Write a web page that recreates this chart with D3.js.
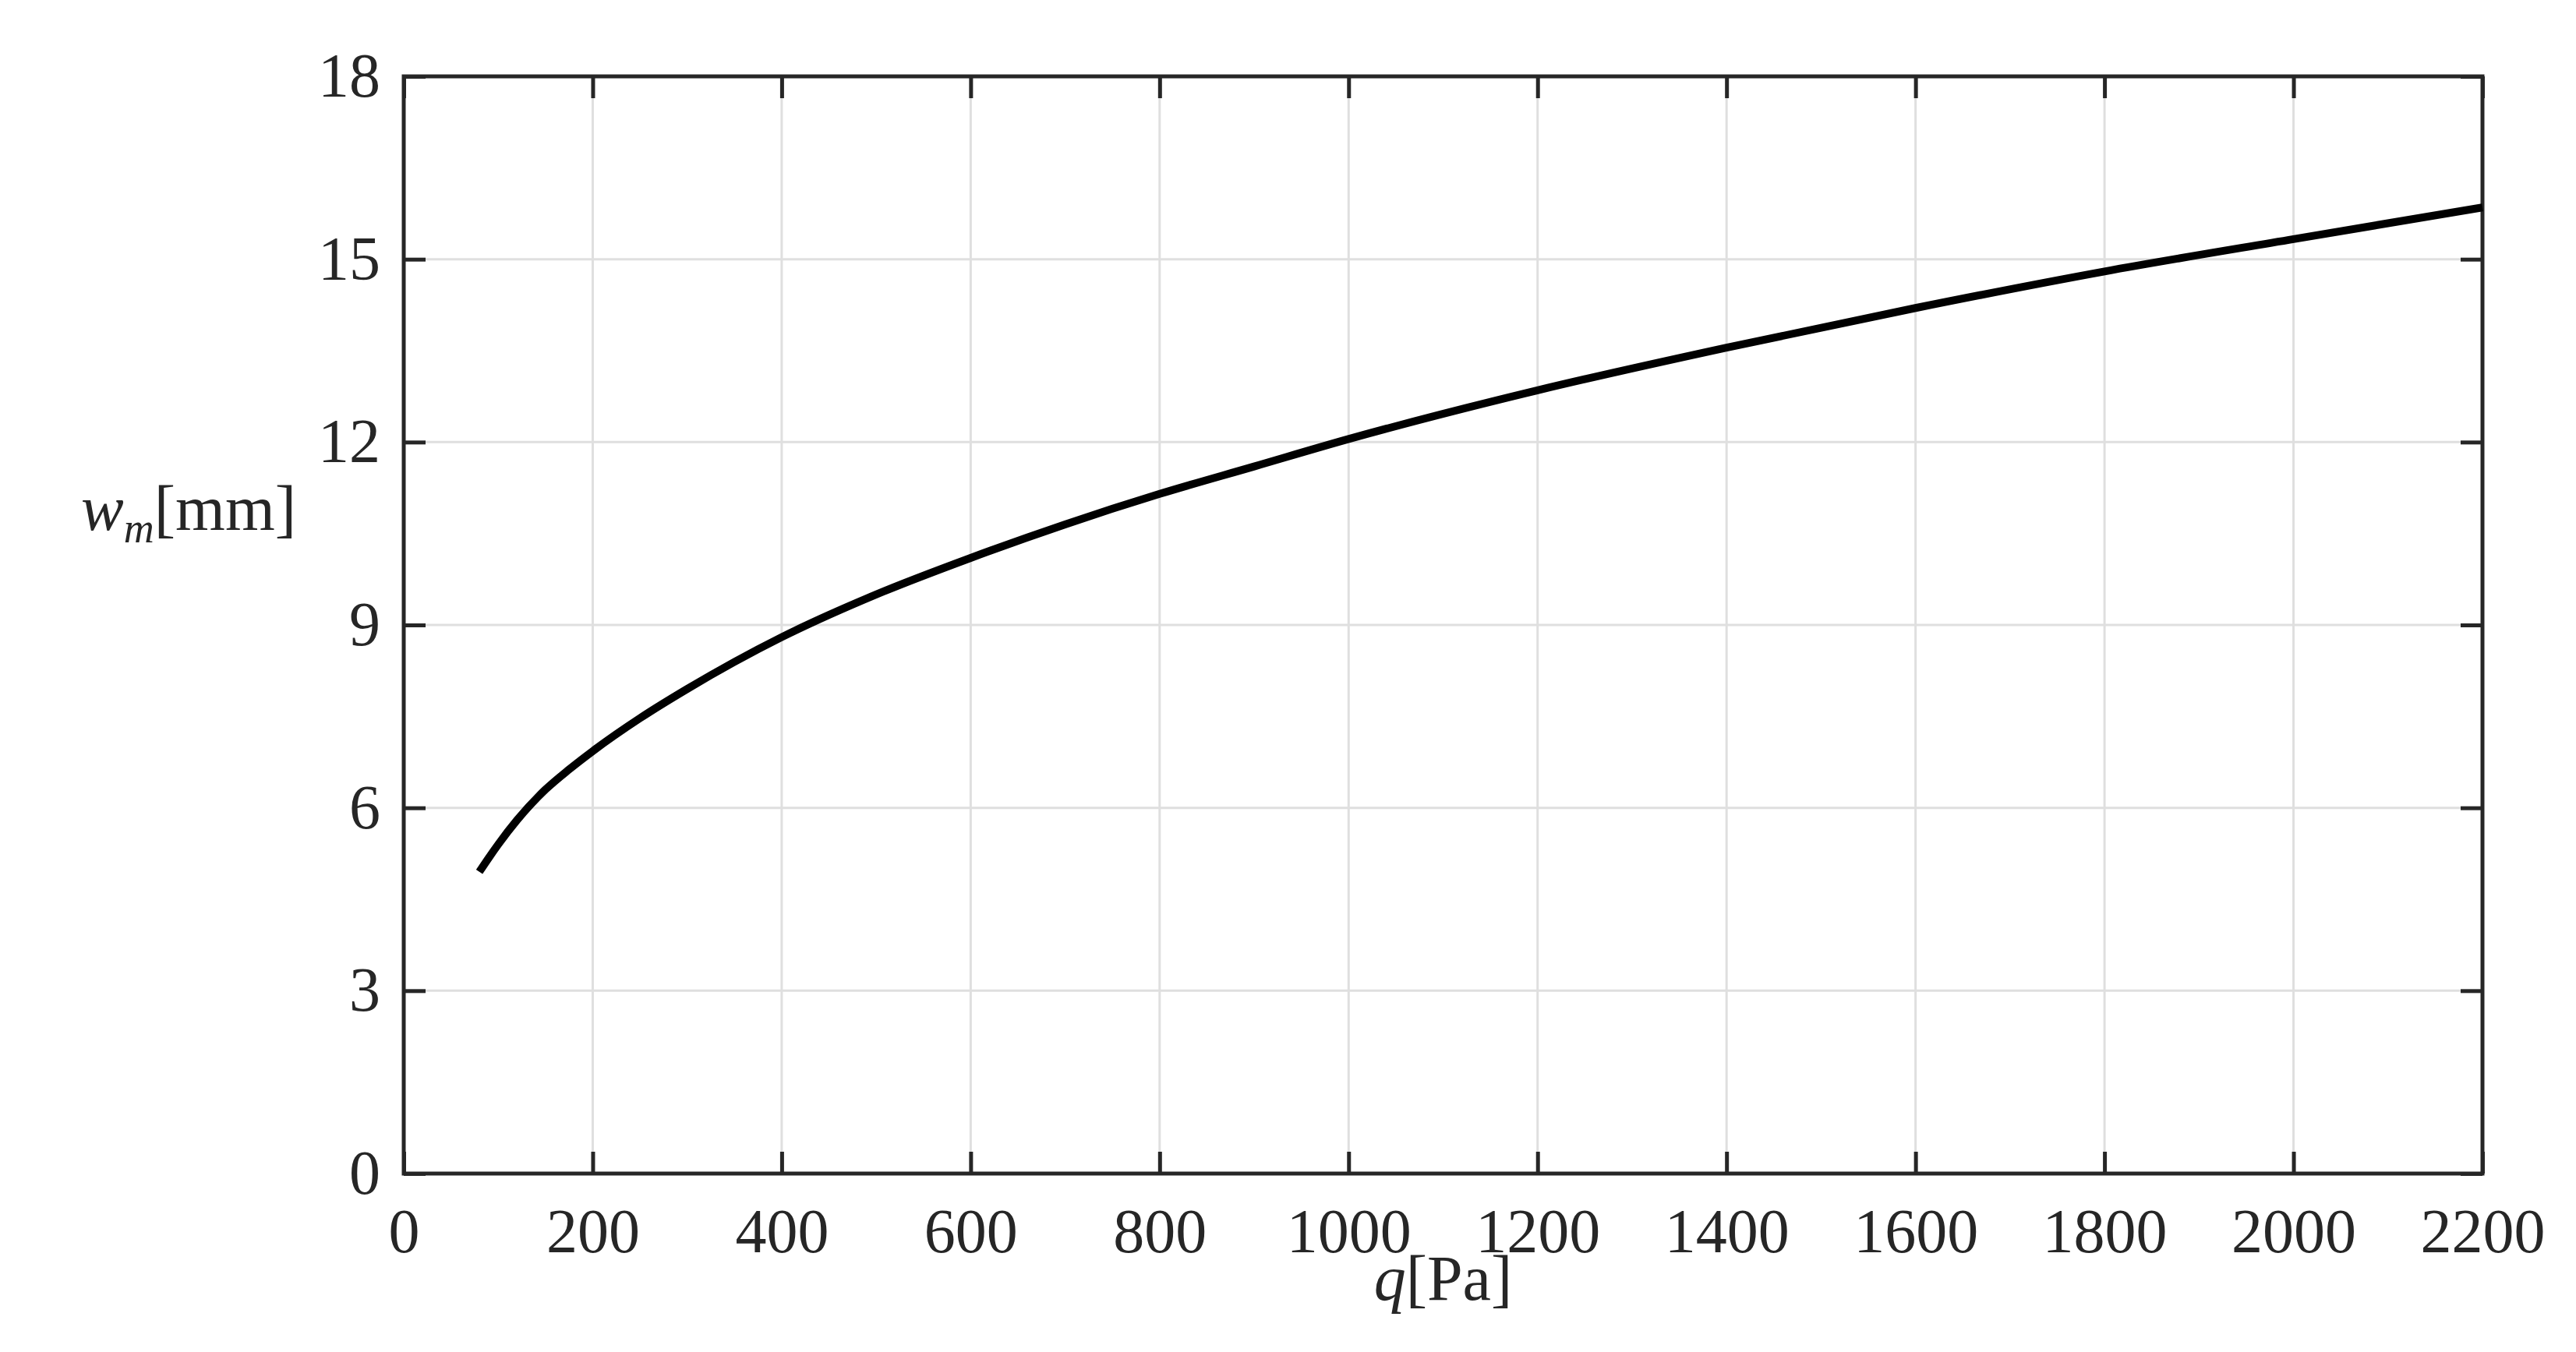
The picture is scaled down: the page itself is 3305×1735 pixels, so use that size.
<!DOCTYPE html>
<html><head><meta charset="utf-8">
<script src="https://cdn.jsdelivr.net/npm/d3@7"></script>
<style>body{margin:0;background:#fff}</style></head>
<body><svg id="c" width="3305" height="1735"></svg>
<script>
const qValues = [80,90,100,120,150,175,200,250,300,400,500,600,700,800,900,1000,1200,1400,1600,1800,2000,2200];
const wValues = [4.95,5.18,5.4,5.8,6.3,6.63,6.93,7.47,7.95,8.8,9.5,10.1,10.65,11.15,11.6,12.05,12.85,13.55,14.2,14.8,15.33,15.85];
const xTicks = [0,200,400,600,800,1000,1200,1400,1600,1800,2000,2200];
const yTicks = [0,3,6,9,12,15,18];

const L=518,R=3185,T=98,B=1506;
const svg=d3.select("#c");
const x=d3.scaleLinear().domain([0,2200]).range([L,R]);
const y=d3.scaleLinear().domain([0,18]).range([B,T]);
const font="'Liberation Serif','Times New Roman',serif";
const ink="#262626";

svg.append("g").selectAll("line").data(xTicks.slice(1,-1)).join("line")
 .attr("x1",d=>x(d)).attr("x2",d=>x(d)).attr("y1",T).attr("y2",B)
 .attr("stroke","#dfdfdf").attr("stroke-width",3);
svg.append("g").selectAll("line").data(yTicks.slice(1,-1)).join("line")
 .attr("y1",d=>y(d)).attr("y2",d=>y(d)).attr("x1",L).attr("x2",R)
 .attr("stroke","#dfdfdf").attr("stroke-width",3);

function style(g){g.select(".domain").remove();g.selectAll("line").attr("stroke",ink).attr("stroke-width",5);
 g.selectAll("text").attr("font-family",font).attr("font-size",80).attr("fill",ink);}
svg.append("g").attr("transform",`translate(0,${B})`).call(d3.axisBottom(x).tickValues(xTicks).tickSize(-28).tickPadding(44).tickFormat(d3.format("d"))).call(style);
svg.append("g").attr("transform",`translate(0,${T})`).call(d3.axisTop(x).tickValues(xTicks).tickSize(-28).tickFormat("")).call(style);
svg.append("g").attr("transform",`translate(${L},0)`).call(d3.axisLeft(y).tickValues(yTicks).tickSize(-28).tickPadding(30)).call(style);
svg.append("g").attr("transform",`translate(${R},0)`).call(d3.axisRight(y).tickValues(yTicks).tickSize(-28).tickFormat("")).call(style);
svg.append("rect").attr("x",L).attr("y",T).attr("width",R-L).attr("height",B-T)
 .attr("fill","none").attr("stroke",ink).attr("stroke-width",5);

svg.append("path").datum(qValues.map((q,i)=>[q,wValues[i]]))
 .attr("d",d3.line().x(d=>x(d[0])).y(d=>y(d[1])).curve(d3.curveMonotoneX))
 .attr("fill","none").attr("stroke","#000").attr("stroke-width",10);

const yl=svg.append("text").attr("x",380).attr("y",680).attr("text-anchor","end")
 .attr("font-family",font).attr("font-size",82).attr("fill",ink);
yl.append("tspan").attr("font-style","italic").text("w");
yl.append("tspan").attr("font-style","italic").attr("font-size",54).attr("dy",16).text("m");
yl.append("tspan").attr("dy",-16).text("[mm]");
const xl=svg.append("text").attr("x",x(1100)).attr("y",1668).attr("text-anchor","middle")
 .attr("font-family",font).attr("font-size",82).attr("fill",ink);
xl.append("tspan").attr("font-style","italic").text("q");
xl.append("tspan").text("[Pa]");
</script></body></html>
